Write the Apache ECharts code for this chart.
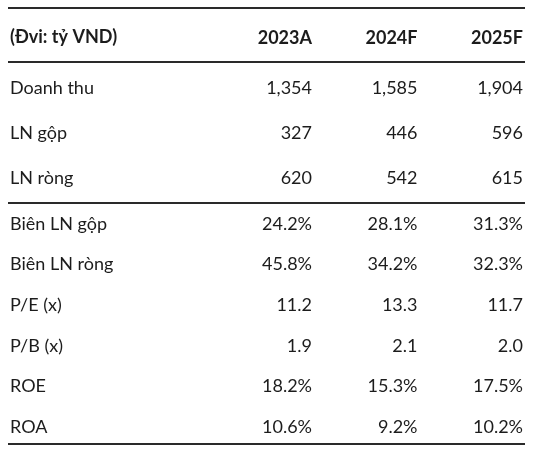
<!DOCTYPE html>
<html>
<head>
<meta charset="utf-8">
<script src="https://cdn.jsdelivr.net/npm/echarts@6/dist/echarts.min.js"></script>
<style>
html,body{margin:0;padding:0;background:#fff;}
#c{width:535px;height:455px;}
</style>
</head>
<body>
<div id="c"></div>
<script>
var unitLabel = '(Đvi: tỷ VND)';
var years = ['2023A', '2024F', '2025F'];
var rows = ['Doanh thu', 'LN gộp', 'LN ròng', 'Biên LN gộp', 'Biên LN ròng', 'P/E (x)', 'P/B (x)', 'ROE', 'ROA'];
var col2023 = ['1,354', '327', '620', '24.2%', '45.8%', '11.2', '1.9', '18.2%', '10.6%'];
var col2024 = ['1,585', '446', '542', '28.1%', '34.2%', '13.3', '2.1', '15.3%', '9.2%'];
var col2025 = ['1,904', '596', '615', '31.3%', '32.3%', '11.7', '2.0', '17.5%', '10.2%'];
var groupSize = 3; // first block: absolute values, second block: ratios

var cols = [col2023, col2024, col2025];
var groups = [rows.slice(0, groupSize), rows.slice(groupSize)];
function cellsFor(g) {
  var out = [];
  var off = g === 0 ? 0 : groupSize;
  for (var c = 0; c < cols.length; c++) {
    for (var r = 0; r < groups[g].length; r++) {
      out.push([c, r, cols[c][r + off]]);
    }
  }
  return out;
}

var FONT = 'Lato';
var TEXT = '#1c1c1c';
var RULE = '#2a2a2a';
var FS = 18;

function render(params, api) {
  var p = api.coord([api.value(0), api.value(1)]);
  return {
    type: 'text',
    style: {x: p[0], y: p[1], text: String(api.value(2)), align: 'right', verticalAlign: 'middle', font: FS + 'px ' + FONT, fill: TEXT}
  };
}

var hiddenAxis = {axisLine: {show: false}, axisTick: {show: false}, splitLine: {show: false}};
function xAx(gi, show) {
  return Object.assign({
    type: 'category', data: years, position: 'top', boundaryGap: false, gridIndex: gi,
    axisLabel: {show: show, align: 'right', margin: 50, verticalAlign: 'middle', fontFamily: FONT, fontWeight: 'bold', fontSize: FS, color: TEXT, interval: 0}
  }, hiddenAxis);
}
function yAx(gi) {
  return Object.assign({
    type: 'category', data: groups[gi], inverse: true, boundaryGap: false, gridIndex: gi,
    axisLabel: {align: 'left', margin: 302, fontFamily: FONT, fontSize: FS, color: TEXT, interval: 0}
  }, hiddenAxis);
}

var chart = echarts.init(document.getElementById('c'), null, {renderer: 'canvas'});
chart.setOption({
  backgroundColor: '#fff',
  animation: false,
  grid: [
    {left: 312, right: 12, top: 88, bottom: 277},
    {left: 312, right: 12, top: 224, bottom: 28}
  ],
  xAxis: [xAx(0, true), xAx(1, false)],
  yAxis: [yAx(0), yAx(1)],
  graphic: [
    {type: 'text', left: 10, top: 28, style: {text: unitLabel, font: 'bold ' + FS + 'px ' + FONT, fill: TEXT}},
    {type: 'line', shape: {x1: 8, y1: 8, x2: 525, y2: 8}, style: {stroke: RULE, lineWidth: 2}},
    {type: 'line', shape: {x1: 8, y1: 62, x2: 525, y2: 62}, style: {stroke: RULE, lineWidth: 2}},
    {type: 'line', shape: {x1: 8, y1: 203, x2: 525, y2: 203}, style: {stroke: RULE, lineWidth: 2}},
    {type: 'line', shape: {x1: 8, y1: 444, x2: 525, y2: 444}, style: {stroke: RULE, lineWidth: 2}}
  ],
  series: [
    {type: 'custom', xAxisIndex: 0, yAxisIndex: 0, data: cellsFor(0), encode: {x: 0, y: 1}, renderItem: render},
    {type: 'custom', xAxisIndex: 1, yAxisIndex: 1, data: cellsFor(1), encode: {x: 0, y: 1}, renderItem: render}
  ]
});
</script>
</body>
</html>
